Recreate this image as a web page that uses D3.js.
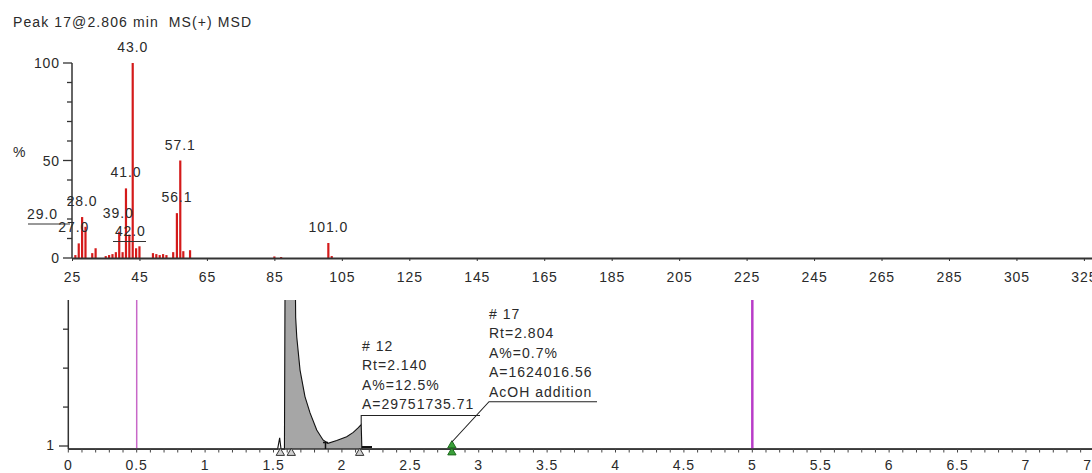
<!DOCTYPE html>
<html lang="en">
<head>
<meta charset="UTF-8">
<title>Peak 17 - MS spectrum and chromatogram</title>
<style>
  body { margin: 0; background: #fff; }
  svg text { font-family: Arial, "Liberation Sans", sans-serif; font-size: 14px; fill: #2a2a2a; letter-spacing: 0.9px; white-space: pre; }
</style>
</head>
<body>
<svg id="chart" width="1092" height="473"></svg>
<script src="https://d3js.org/d3.v7.min.js"></script>
<script>
// mass spectrum of peak 17
const msMz        = [26, 27, 28, 29, 31, 32, 35, 36, 37, 38, 39, 40, 41, 42, 43, 44, 45, 49, 50, 51, 52, 53, 55, 56.1, 57.1, 58, 60, 85, 87, 101, 102];
const msIntensity = [1.5, 7.5, 21, 16, 2.5, 5, 1, 1.5, 2, 3, 13.5, 3, 35.7, 12, 100, 5, 6, 2.5, 2, 1.5, 2, 1.5, 3, 23, 50, 3.5, 4, 0.8, 0.5, 7.7, 1];
const msLabels    = ["43.0", "57.1", "41.0", "56.1", "28.0", "39.0", "27.0", "29.0", "42.0", "101.0"];
const msLabelMz   = [43, 57.1, 41, 56.1, 28, 39, 27, 29, 42, 101];
const msXTicks    = [25, 45, 65, 85, 105, 125, 145, 165, 185, 205, 225, 245, 265, 285, 305, 325];
const msYTicks    = [0, 10, 20, 30, 40, 50, 60, 70, 80, 90, 100];
const msYLabels   = [0, 50, 100];

// chromatogram
const rtTime   = [0, 1.53, 1.545, 1.555, 1.58, 1.588, 1.60, 1.63, 1.655, 1.662, 1.67, 1.694, 1.73, 1.767, 1.816, 1.862, 1.898, 1.962, 2.035, 2.083, 2.12, 2.141, 2.146, 2.2, 7.6];
const rtSignal = [0.92, 0.92, 1.21, 0.92, 0.92, 9, 10, 9.5, 7, 4.3, 3.8, 2.95, 2.27, 1.85, 1.41, 1.155, 1.07, 1.14, 1.24, 1.35, 1.47, 1.55, 0.92, 0.92, 0.92];
const rtXTicks = [0, 0.5, 1, 1.5, 2, 2.5, 3, 3.5, 4, 4.5, 5, 5.5, 6, 6.5, 7, 7.5];
const rtYTicks = [1, 2, 3, 4];
const cursorTimes = [0.5, 5.0];
const peakMarks   = [1.55, 1.63, 2.13];
const splitTimes  = [1.88];
const peak12Text  = ["# 12", "Rt=2.140", "A%=12.5%", "A=29751735.71"];
const peak17Text  = ["# 17", "Rt=2.804", "A%=0.7%", "A=1624016.56", "AcOH addition"];
const peak12Rt = 2.141, peak17Rt = 2.804;

const svg = d3.select("#chart");

// ---------- top panel: spectrum ----------
const xMS = d3.scaleLinear().domain([25, 327.4]).range([72, 1092]);
const yMS = d3.scaleLinear().domain([0, 100]).range([258, 63]);

svg.append("text").attr("x", 13).attr("y", 27).style("letter-spacing", "1.1px")
    .text("Peak 17@2.806 min  MS(+) MSD");

svg.selectAll(".msbar").data(msMz).enter().append("line")
    .attr("class", "msbar")
    .attr("x1", d => xMS(d)).attr("x2", d => xMS(d))
    .attr("y1", yMS(0)).attr("y2", (d, i) => yMS(msIntensity[i]))
    .attr("stroke", "#d41a1a").attr("stroke-width", 2.2);

// x axis
const gx = svg.append("g").attr("transform", "translate(0," + yMS(0) + ")")
    .call(d3.axisBottom(xMS).tickValues(msXTicks).tickSize(3).tickSizeOuter(0).tickFormat(d3.format("d")));
gx.select(".domain").attr("stroke", "#333").attr("stroke-width", 2);
gx.selectAll(".tick line").attr("stroke", "#333");
gx.selectAll(".tick text").attr("y", 24).attr("dy", 0).attr("font-size", null).attr("font-family", null).attr("fill", null);

// y axis
svg.append("line").attr("x1", 72).attr("x2", 72).attr("y1", yMS(100)).attr("y2", yMS(0))
    .attr("stroke", "#333").attr("stroke-width", 1.5);
svg.selectAll(".msytick").data(msYTicks).enter().append("line")
    .attr("x1", d => msYLabels.includes(d) ? 63 : 67).attr("x2", 72)
    .attr("y1", d => yMS(d)).attr("y2", d => yMS(d))
    .attr("stroke", "#333").attr("stroke-width", 1.3);
svg.selectAll(".msylab").data(msYLabels).enter().append("text")
    .attr("x", 60).attr("y", d => yMS(d) + 5).attr("text-anchor", "end").text(d => d);
svg.append("text").attr("x", 13).attr("y", 157).text("%");

// peak labels, with manual nudges where the software moved them
const nudge = {"27.0": [-5, 0], "39.0": [-1, -3], "29.0": [-43, 3], "42.0": [1, 12.5]};
msLabels.forEach((lab, i) => {
    const mz = msLabelMz[i];
    const v = msIntensity[msMz.indexOf(mz)];
    const n = nudge[lab] || [0, 0];
    svg.append("text")
        .attr("x", xMS(mz) + n[0]).attr("y", yMS(v) - 11 + n[1])
        .attr("text-anchor", "middle").text(lab);
});
// leader underlines of the moved labels
svg.append("line").attr("x1", 28).attr("x2", 70).attr("y1", 224).attr("y2", 224).attr("stroke", "#333");
svg.append("line").attr("x1", 113).attr("x2", 146).attr("y1", 241.5).attr("y2", 241.5).attr("stroke", "#333");

// ---------- bottom panel: chromatogram ----------
const xRT = d3.scaleLinear().domain([0, 7.483]).range([68.3, 1092]);
const yRT = d3.scaleLinear().domain([0.923, 4.75]).range([449, 300]);

svg.append("clipPath").attr("id", "plotclip").append("rect")
    .attr("x", 68).attr("y", 300).attr("width", 1030).attr("height", 160);

const pts = rtTime.map((t, i) => ({t: t, v: rtSignal[i]}));
const clip = svg.append("g").attr("clip-path", "url(#plotclip)");

clip.append("path").datum(pts)
    .attr("fill", "#a6a6a6")
    .attr("d", d3.area().defined(d => d.t >= 1.57 && d.t <= 2.15)
        .x(d => xRT(d.t)).y0(yRT(0.923)).y1(d => yRT(d.v)));

// cursor lines
svg.selectAll(".cursor").data(cursorTimes).enter().append("line")
    .attr("x1", d => xRT(d)).attr("x2", d => xRT(d))
    .attr("y1", 300).attr("y2", 449)
    .attr("stroke", (d, i) => i ? "#b83cc8" : "#c868c8")
    .attr("stroke-width", (d, i) => i ? 2.5 : 1.5);

clip.append("path").datum(pts)
    .attr("fill", "none").attr("stroke", "#111").attr("stroke-width", 1.1)
    .attr("d", d3.line().x(d => xRT(d.t)).y(d => yRT(d.v)));

// x axis with minor ticks
svg.append("line").attr("x1", 68).attr("x2", 1092).attr("y1", 449).attr("y2", 449)
    .attr("stroke", "#333").attr("stroke-width", 1.6);
svg.selectAll(".rtminor").data(d3.range(0, 76)).enter().append("line")
    .attr("x1", d => xRT(d / 10)).attr("x2", d => xRT(d / 10))
    .attr("y1", 449).attr("y2", 452.5)
    .attr("stroke", "#444").attr("stroke-width", 1);
svg.selectAll(".rtlab").data(rtXTicks).enter().append("text")
    .attr("x", d => xRT(d)).attr("y", 470).attr("text-anchor", "middle").text(d => d);

// y axis
svg.append("line").attr("x1", 68.3).attr("x2", 68.3).attr("y1", 300).attr("y2", 449)
    .attr("stroke", "#333").attr("stroke-width", 1.5);
svg.selectAll(".rtytick").data(rtYTicks).enter().append("line")
    .attr("x1", d => d === 1 ? 59 : 63).attr("x2", 68.3)
    .attr("y1", d => yRT(d)).attr("y2", d => yRT(d))
    .attr("stroke", "#333").attr("stroke-width", 1.3);
svg.append("text").attr("x", 55).attr("y", yRT(1) + 4).attr("text-anchor", "end").text("1");

// peak start/end markers
const tri = d3.symbol().type(d3.symbolTriangle).size(30);
svg.selectAll(".pmark").data(peakMarks).enter().append("path")
    .attr("d", tri).attr("transform", d => "translate(" + xRT(d) + ",453)")
    .attr("fill", "#d0d0d0").attr("stroke", "#333").attr("stroke-width", 1);
splitTimes.forEach(t => {
    svg.append("line").attr("x1", xRT(t)).attr("x2", xRT(t)).attr("y1", 442.5).attr("y2", 449)
        .attr("stroke", "#111").attr("stroke-width", 1.5);
    svg.append("line").attr("x1", xRT(t) - 2.5).attr("x2", xRT(t) + 2.5).attr("y1", 442.5).attr("y2", 442.5)
        .attr("stroke", "#111").attr("stroke-width", 1.5);
});
svg.append("line").attr("x1", xRT(2.146)).attr("x2", xRT(2.22)).attr("y1", 447).attr("y2", 447)
    .attr("stroke", "#111").attr("stroke-width", 2);

// peak 17 marker (green)
[445.5, 452.5].forEach(yy => {
    svg.append("path").attr("d", tri).attr("transform", "translate(" + xRT(peak17Rt) + "," + yy + ")")
        .attr("fill", "#3aa03a").attr("stroke", "#1d6a1d").attr("stroke-width", 1);
});

// annotation #12
const x12 = xRT(peak12Rt);
svg.append("path").attr("fill", "none").attr("stroke", "#222").attr("stroke-width", 1.1)
    .attr("d", "M" + x12 + "," + yRT(1.55) + "V415.5H480");
peak12Text.forEach((s, i) => {
    svg.append("text").attr("x", 362).attr("y", 350.5 + i * 19.5).style("letter-spacing", "1px").text(s);
});

// annotation #17
svg.append("path").attr("fill", "none").attr("stroke", "#222").attr("stroke-width", 1.1)
    .attr("d", "M" + xRT(peak17Rt) + ",442L489,401.7H597");
peak17Text.forEach((s, i) => {
    svg.append("text").attr("x", 489).attr("y", 319 + i * 19.4).style("letter-spacing", "1px").text(s);
});
</script>
</body>
</html>
